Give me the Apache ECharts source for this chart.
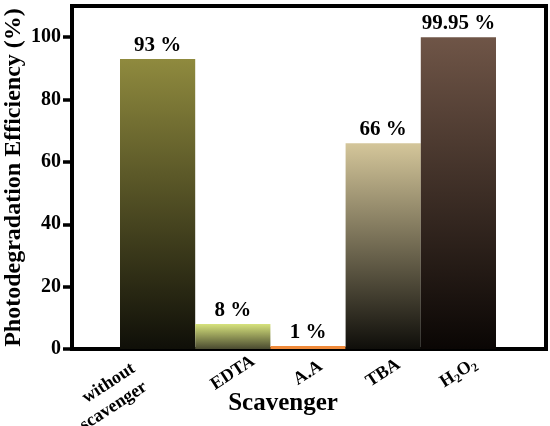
<!DOCTYPE html>
<html>
<head>
<meta charset="utf-8">
<script src="https://cdn.jsdelivr.net/npm/echarts@6/dist/echarts.min.js"></script>
<style>
  html, body { margin: 0; padding: 0; background: #fff; }
  #main { width: 550px; height: 426px; }
</style>
</head>
<body>
<div id="main"></div>
<script>
// 数据
const categories = ["without\nscavenger", "EDTA", "A.A", "TBA", "H{sub|2}O{sub|2}"];
const efficiency = [93, 8, 1, 66, 99.95];
const valueLabels = ["93 %", "8 %", "1 %", "66 %", "99.95 %"];
const yTicks = [0, 20, 40, 60, 80, 100];
// 每根柱子的渐变色 (上 -> 下)
const topColors = ["#8f8a3e", "#d6e27c", "#f08a3a", "#d4c69a", "#6f5547"];
const bottomColors = ["#0f0f08", "#4a4a30", "#f08a3a", "#0f0e0a", "#0a0604"];

const font = "Liberation Serif";
const chart = echarts.init(document.getElementById("main"));

const options = {
  animation: false,
  grid: [
    // 外框 + y轴
    { left: 72, right: 4, top: 6, bottom: 77, show: true, borderColor: "#000", borderWidth: 4, outerBoundsMode: "none", containLabel: false },
    // 柱子
    { left: 120, right: 54, top: 6, bottom: 77, outerBoundsMode: "none", containLabel: false },
  ],
  xAxis: [
    { gridIndex: 0, type: "value", show: false, min: 0, max: 1 },
    {
      gridIndex: 1,
      type: "category",
      // 第一个标签偏左下
      data: categories.map((c, i) =>
        i === 0 ? { value: c, textStyle: { padding: [0, 17, 14, 0] } } : c
      ),
      axisLine: { show: false },
      axisTick: { show: false },
      axisLabel: {
        rotate: 33,
        interval: 0,
        margin: 24,
        align: "center",
        verticalAlign: "middle",
        fontFamily: font,
        fontWeight: "bold",
        fontSize: 18,
        lineHeight: 22,
        color: "#000",
        rich: {
          sub: { fontFamily: font, fontWeight: "bold", fontSize: 12, verticalAlign: "bottom", padding: [9, 0, 0, 0] },
        },
      },
      name: "Scavenger",
      nameLocation: "middle",
      nameGap: 42,
      nameMoveOverlap: false,
      nameTextStyle: {
        fontFamily: font,
        fontWeight: "bold",
        fontSize: 25,
        color: "#000",
        verticalAlign: "top",
        padding: [0, 50, 0, 0],
      },
    },
  ],
  yAxis: [
    {
      gridIndex: 0,
      type: "value",
      min: 0,
      max: 110,
      interval: 20,
      splitLine: { show: false },
      axisLine: { show: false },
      axisTick: { show: true, length: 9, lineStyle: { color: "#000", width: 3.5 } },
      axisLabel: {
        showMaxLabel: false,
        margin: 11,
        fontFamily: font,
        fontWeight: "bold",
        fontSize: 20,
        color: "#000",
        formatter: (v) => (yTicks.includes(v) ? String(v) : ""),
      },
      name: "Photodegradation Efficiency (%)",
      nameLocation: "middle",
      nameGap: 46,
      nameMoveOverlap: false,
      nameTextStyle: { fontFamily: font, fontWeight: "bold", fontSize: 24, color: "#000" },
    },
    { gridIndex: 1, type: "value", min: 0, max: 110, show: false },
  ],
  series: [
    {
      type: "bar",
      xAxisIndex: 1,
      yAxisIndex: 1,
      barCategoryGap: 0,
      data: efficiency.map((v, i) => ({
        value: v,
        itemStyle: {
          color: new echarts.graphic.LinearGradient(0, 0, 0, 1, [
            { offset: 0, color: topColors[i] },
            { offset: 1, color: bottomColors[i] },
          ]),
        },
        label: { formatter: valueLabels[i] },
      })),
      label: {
        show: true,
        position: "top",
        distance: 3,
        fontFamily: font,
        fontWeight: "bold",
        fontSize: 21,
        color: "#000",
      },
    },
  ],
};

chart.setOption(options);
</script>
</body>
</html>
